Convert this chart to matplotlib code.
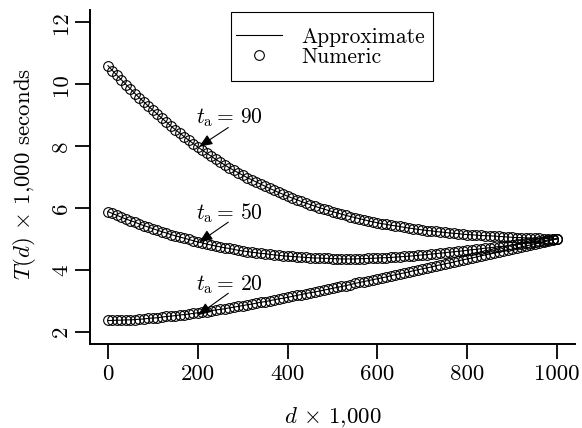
import numpy as np
import matplotlib
matplotlib.use("Agg")
import matplotlib.pyplot as plt
from matplotlib.lines import Line2D
from matplotlib.patches import Rectangle

plt.rcParams['font.family'] = ['cmr10', 'DejaVu Serif']
plt.rcParams['mathtext.fontset'] = 'cm'
plt.rcParams['axes.formatter.use_mathtext'] = True
plt.rcParams['axes.unicode_minus'] = False

# ---------------- data ----------------
d = np.arange(0, 1001, 10)

T_ta90 = [10.60, 10.44, 10.29, 10.14, 9.99, 9.85, 9.70, 9.56, 9.43, 9.29,
          9.16, 9.03, 8.90, 8.78, 8.65, 8.53, 8.42, 8.30, 8.19, 8.08,
          7.97, 7.87, 7.77, 7.67, 7.57, 7.48, 7.39, 7.30, 7.22, 7.14,
          7.06, 6.98, 6.91, 6.84, 6.77, 6.70, 6.63, 6.57, 6.50, 6.44,
          6.38, 6.32, 6.27, 6.21, 6.16, 6.11, 6.06, 6.01, 5.97, 5.92,
          5.88, 5.84, 5.80, 5.76, 5.72, 5.69, 5.65, 5.62, 5.58, 5.55,
          5.52, 5.49, 5.47, 5.44, 5.42, 5.40, 5.37, 5.35, 5.33, 5.31,
          5.29, 5.27, 5.26, 5.24, 5.22, 5.21, 5.19, 5.18, 5.17, 5.15,
          5.14, 5.13, 5.12, 5.11, 5.10, 5.10, 5.09, 5.08, 5.07, 5.06,
          5.05, 5.04, 5.04, 5.03, 5.03, 5.02, 5.02, 5.01, 5.01, 5.00, 5.00]

T_ta50 = [5.88, 5.82, 5.76, 5.70, 5.64, 5.59, 5.54, 5.48, 5.43, 5.38,
          5.33, 5.28, 5.23, 5.19, 5.14, 5.10, 5.06, 5.02, 4.98, 4.94,
          4.90, 4.87, 4.83, 4.80, 4.77, 4.74, 4.71, 4.69, 4.66, 4.63,
          4.61, 4.59, 4.57, 4.55, 4.53, 4.52, 4.50, 4.48, 4.47, 4.45,
          4.44, 4.43, 4.42, 4.41, 4.40, 4.39, 4.38, 4.38, 4.37, 4.37,
          4.36, 4.36, 4.35, 4.35, 4.35, 4.35, 4.36, 4.36, 4.37, 4.37,
          4.38, 4.39, 4.39, 4.40, 4.41, 4.42, 4.43, 4.44, 4.45, 4.47,
          4.48, 4.49, 4.51, 4.52, 4.54, 4.55, 4.57, 4.58, 4.60, 4.61,
          4.63, 4.65, 4.66, 4.68, 4.70, 4.71, 4.73, 4.75, 4.76, 4.78,
          4.80, 4.82, 4.84, 4.86, 4.88, 4.90, 4.92, 4.94, 4.96, 4.98, 5.00]

T_ta20 = [2.36, 2.36, 2.37, 2.37, 2.38, 2.38, 2.39, 2.40, 2.41, 2.43,
          2.44, 2.45, 2.47, 2.49, 2.50, 2.52, 2.54, 2.55, 2.57, 2.59,
          2.61, 2.63, 2.65, 2.68, 2.70, 2.72, 2.74, 2.77, 2.79, 2.82,
          2.84, 2.87, 2.89, 2.92, 2.95, 2.97, 3.00, 3.03, 3.06, 3.08,
          3.11, 3.14, 3.17, 3.20, 3.23, 3.26, 3.28, 3.31, 3.34, 3.37,
          3.40, 3.43, 3.46, 3.49, 3.52, 3.56, 3.59, 3.62, 3.65, 3.68,
          3.71, 3.74, 3.77, 3.81, 3.84, 3.87, 3.90, 3.93, 3.97, 4.00,
          4.03, 4.06, 4.09, 4.13, 4.16, 4.19, 4.22, 4.25, 4.29, 4.32,
          4.35, 4.38, 4.41, 4.45, 4.48, 4.51, 4.54, 4.57, 4.61, 4.64,
          4.67, 4.70, 4.74, 4.77, 4.80, 4.84, 4.87, 4.90, 4.93, 4.97, 5.00]

series = [T_ta90, T_ta50, T_ta20]
labels_ta = ["90", "50", "20"]
x_ticks = [0, 200, 400, 600, 800, 1000]
y_ticks = [2, 4, 6, 8, 10, 12]

# ---------------- figure ----------------
FS_AX = 16.5   # tick + axis labels
FS = 15.5      # legend + annotations
MS = 7.0
fig = plt.figure(figsize=(5.82, 4.28), dpi=100)
ax = fig.add_axes([90/582, 1-344/428, (575-90)/582, (344-10)/428])

for s in series:
    ax.plot(d, s, '-', color='black', lw=0.8, zorder=2)
    ax.plot(d, s, 'o', mfc='none', mec='black', mew=0.8, ms=MS, zorder=3)

# annotations: label position, arrow tail, arrow tip (data coords)
ann = [((270, 8.93), (268, 8.60), (203, 7.98)),
       ((270, 5.84), (268, 5.54), (203, 4.89)),
       ((270, 3.51), (268, 3.24), (200, 2.53))]
for lab, (txy, tail, tip) in zip(labels_ta, ann):
    ax.text(txy[0], txy[1], r"$t_{\mathrm{a}} =\, %s$" % lab,
            ha='center', va='center', fontsize=FS, zorder=5)
    ax.annotate("", xy=tip, xytext=tail,
                arrowprops=dict(arrowstyle='-|>,head_length=0.8,head_width=0.33',
                                color='black', lw=0.8, shrinkA=0, shrinkB=0),
                zorder=5)

ax.set_xlim(-40, 1040)
ax.set_ylim(1.6, 12.4)
ax.set_xticks(x_ticks)
ax.set_yticks(y_ticks)
ax.set_xticklabels([str(v) for v in x_ticks], fontsize=FS_AX)
ax.set_yticklabels([str(v) for v in y_ticks], fontsize=FS_AX, rotation=90, va='center')

for sp in ['top', 'right']:
    ax.spines[sp].set_visible(False)
for sp in ['left', 'bottom']:
    ax.spines[sp].set_linewidth(1.4)
ax.tick_params(axis='both', direction='out', length=10.5, width=1.3, colors='black')
ax.tick_params(axis='x', pad=4.0)
ax.tick_params(axis='y', pad=3.0)

# axis labels
fig.text(25/582, 1-174/428, r"$T(d) \,\times\, 1{,}000$ seconds", rotation=90,
         ha='center', va='center', fontsize=FS_AX)
fig.text(333/582, 1-417/428, r"$d \,\times\, 1{,}000$", ha='center', va='center', fontsize=FS_AX)

# legend (frame drawn separately)
h1 = Line2D([], [], color='black', lw=0.8)
h2 = Line2D([], [], ls='none', marker='o', mfc='none', mec='black', mew=0.8, ms=MS)
leg = fig.legend([h1, h2], ["Approximate", "Numeric"], loc='center left',
                 bbox_to_anchor=(236/582, 1-47/428), bbox_transform=fig.transFigure,
                 borderaxespad=0, fontsize=FS, frameon=False,
                 borderpad=0.0, labelspacing=0.0, handlelength=2.15, handletextpad=0.9)
fig.add_artist(Rectangle((231/582, 1-81/428), (433-231)/582, (81-12)/428,
                         transform=fig.transFigure, fill=False, ec='black', lw=0.8))

fig.savefig("out.png", dpi=100)
